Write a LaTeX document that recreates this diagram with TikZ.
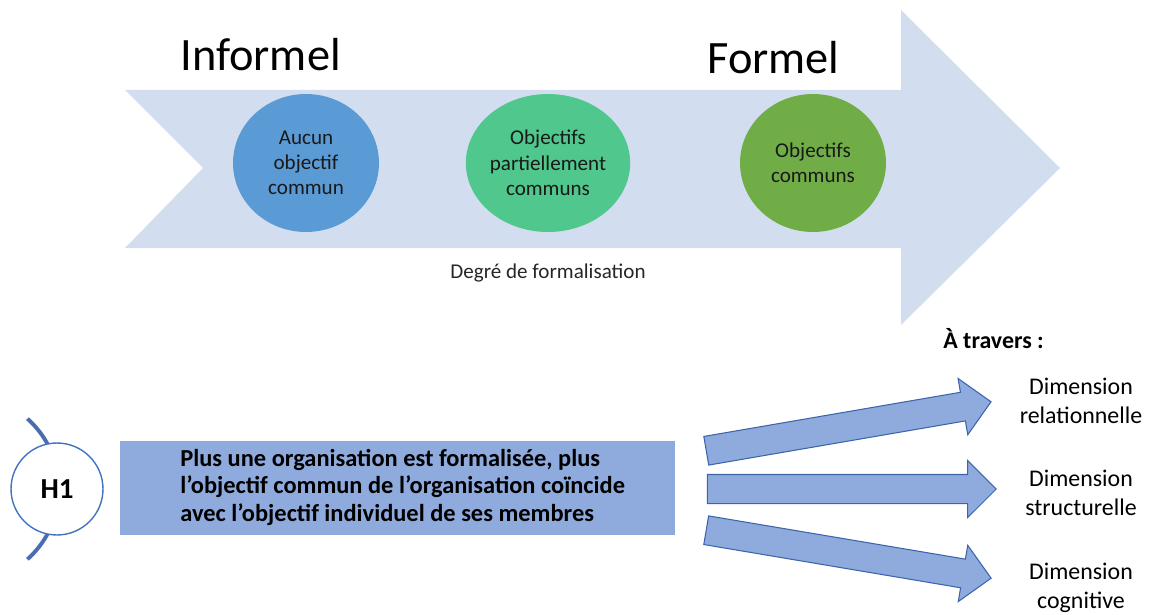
\documentclass[tikz,border=0pt]{standalone}
\usepackage{fontspec}
\setmainfont{Carlito}
\usetikzlibrary{shapes.geometric,shapes.arrows}
\definecolor{bandblue}{HTML}{D2DEEF}
\definecolor{dotblue}{HTML}{5B9BD5}
\definecolor{dotteal}{HTML}{4FC78D}
\definecolor{dotgreen}{HTML}{70AD47}
\definecolor{boxblue}{HTML}{8FAADC}
\definecolor{edgeblue}{HTML}{3B64AD}
\definecolor{ringblue}{HTML}{4472C4}
\definecolor{arcblue}{HTML}{4A6DB0}
\begin{document}
\begin{tikzpicture}[x=0.02cm,y=-0.02cm,
  stage/.style={ellipse, inner sep=0pt, minimum width=2.92cm, minimum height=2.76cm,
    align=center, font=\fontsize{12}{14.4}\selectfont, text=black!90},
  bigword/.style={font=\fontsize{26.4}{30}\selectfont, anchor=base west, inner sep=0pt},
  blockarrow/.style={single arrow, draw=edgeblue, line width=0.6pt, fill=boxblue,
    inner xsep=0pt, inner ysep=0.28cm, minimum width=1.12cm, single arrow head extend=0.28cm,
    single arrow tip angle=90, minimum height=5.78cm},
  dimlabel/.style={align=center, anchor=base, inner sep=0pt,
    font=\fontsize{13.6}{16}\selectfont}
]
\useasboundingbox (0,0) rectangle (1150,615);

% formalisation scale: chevron-tailed block arrow
\fill[bandblue] (125,90) -- (901,90) -- (901,10) -- (1060,168) -- (901,325)
  -- (901,248) -- (125,248) -- (203,168) -- cycle;

\node[bigword] (informel) at (180,71) {Informel};
\node[bigword] (formel) at (707,74) {Formel};

\node[stage, fill=dotblue]  (aucun)   at (306,163) {Aucun\\objectif\\commun};
\node[stage, fill=dotteal]  (partiel) at (548,163) {Objectifs\\partiellement\\communs};
\node[stage, fill=dotgreen] (communs) at (813,163) {Objectifs\\communs};

\node[anchor=base, inner sep=0pt, font=\fontsize{12}{14}\selectfont, text=black!85]
  (degre) at (548,278) {Degré de formalisation};

% hypothesis H1
\draw[arcblue, line width=2.2pt] (27.4,418.7) arc[start angle=48.4, end angle=-48.4, radius=1.88cm];
\node[circle, draw=ringblue, line width=0.8pt, fill=white, minimum size=1.84cm, inner sep=0pt,
  font=\bfseries\fontsize{16.5}{20}\selectfont] (hyp) at (57,489) {H1};

\node[fill=boxblue, minimum width=11.1cm, minimum height=1.9cm, inner sep=0pt] (claim) at (397.5,488) {};
\node[anchor=base west, align=left, inner sep=0pt, font=\bfseries\fontsize{13.9}{15.6}\selectfont]
  (claimtext) at (180,521) {Plus une organisation est formalisée, plus\\
  l’objectif commun de l’organisation coïncide\\
  avec l’objectif individuel de ses membres};

% dimensions
\node[anchor=base west, inner sep=0pt, font=\bfseries\fontsize{13.6}{16}\selectfont]
  (travers) at (943,348) {À travers :};

\node[blockarrow, rotate=9.76]  (arrowrel) at (841.5,427.5) {};
\node[blockarrow]               (arrowstr) at (844.5,489) {};
\node[blockarrow, rotate=-9.56] (arrowcog) at (841.5,553) {};

\node[dimlabel] (relat) at (1081,423) {Dimension\\relationnelle};
\node[dimlabel] (struct) at (1081,515) {Dimension\\structurelle};
\node[dimlabel] (cogn) at (1081,608) {Dimension\\cognitive};
\end{tikzpicture}
\end{document}
